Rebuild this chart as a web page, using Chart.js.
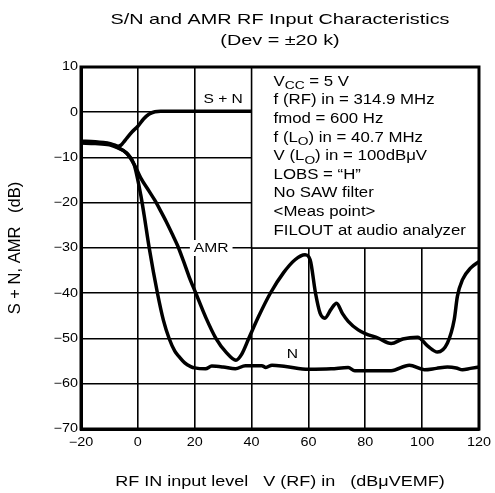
<!DOCTYPE html>
<html><head><meta charset="utf-8">
<script src="https://cdn.jsdelivr.net/npm/chart.js@4.4.1/dist/chart.umd.min.js"></script>
<style>html,body{margin:0;padding:0;background:#fff}canvas{display:block}</style>
</head><body>
<canvas id="c" width="495" height="493"></canvas>
<script>
// ---- data ----
const xTicks = [-20, 0, 20, 40, 60, 80, 100, 120];
const yTicks = [10, 0, -10, -20, -30, -40, -50, -60, -70];

const snX = [-20, -15, -10, -8, -7, -6, -5, -4, -2, 0, 2, 4, 6, 8, 10, 20, 30, 40];
const snY = [-6.4, -6.5, -6.9, -7.3, -7.5, -7.3, -6.6, -5.8, -4.3, -3.1, -1.5, -0.4, 0.1, 0.2, 0.2, 0.2, 0.2, 0.2];

const nX = [-20, -15, -10, -7, -4, -1.3, 1, 2.2, 4, 6.9, 9, 11, 13, 14.5, 16.5, 18.6, 20, 23.8, 26, 30, 34.3, 37.8, 43.6, 45, 47.2, 52, 60, 68, 74, 76.3, 89.1, 95.5, 100.8, 105, 108.9, 112, 114.2, 117, 120];
const nY = [-6.8, -6.9, -7.2, -7.9, -9.0, -11.6, -18.2, -22.7, -30, -40, -46, -50, -52.8, -54, -55.4, -56.2, -56.5, -56.7, -56.1, -56.3, -56.7, -56.0, -56.0, -56.4, -55.9, -56.2, -56.8, -56.7, -56.4, -57.1, -57.1, -55.9, -56.9, -56.6, -56.3, -56.5, -56.9, -56.6, -56.3];

const amrX = [-20, -15, -10, -7, -4, -1.3, 1, 4, 6, 8, 10, 12, 14, 16, 18, 20.4, 24, 27.4, 31, 34.5, 36.5, 39, 42.5, 46.6, 51.2, 55.3, 58.8, 60.6, 62.5, 64.1, 65.8, 68, 69.9, 72, 74, 77.5, 80, 84.5, 89.1, 93.2, 98.4, 102, 105.4, 108.9, 111.3, 112.4, 114.2, 117.1, 120];
const amrY = [-6.6, -6.7, -7.0, -7.8, -9.0, -11.5, -14.5, -17.5, -19.5, -21.8, -24.2, -26.8, -29.5, -32.8, -36.3, -40, -45.5, -49.9, -53, -54.8, -53.5, -50, -45.1, -40, -35.5, -32.6, -31.5, -32.6, -40, -44.4, -45.5, -43.5, -42.2, -44.5, -46.2, -48.1, -48.9, -49.9, -51.1, -50.1, -49.7, -51.7, -53, -51, -45.8, -40.7, -37, -34.4, -33];

const titleLines = ["S/N and AMR RF Input Characteristics", "(Dev = \u00B120 k)"];
const xTitle = "RF IN input level   V (RF) in   (dB\u03BCVEMF)";
const yTitle = "S + N, AMR   (dB)";
const notes = [
  "V_{CC} = 5 V",
  "f (RF) in = 314.9 MHz",
  "fmod = 600 Hz",
  "f (L_{O}) in = 40.7 MHz",
  "V (L_{O}) in = 100dB\u03BCV",
  "LOBS = \u201CH\u201D",
  "No SAW filter",
  "<Meas point>",
  "FILOUT at audio analyzer"
];
const curveLabels = [
  {text: "S + N", x: 30, y: 2.9, bg: false},
  {text: "AMR", x: 25.8, y: -30, bg: true},
  {text: "N", x: 54.4, y: -53.6, bg: false}
];
const noteBox = {x0: 40, x1: 120, y0: -30, y1: 10};

// ---- styling ----
const FONT = "'Liberation Sans', Arial, Helvetica, sans-serif";
const SX = 1.2;
const proto = CanvasRenderingContext2D.prototype.fillText;
const fmt = v => (v < 0 ? "\u2212" + Math.abs(v) : String(v));
const pts = (xs, ys) => xs.map((x, i) => ({x: x, y: ys[i]}));

const stretchPlugin = {
  id: 'stretch',
  beforeInit(chart) {
    const ctx = chart.ctx;
    ctx.fillText = function (t, x, y, mw) {
      const m = this.getTransform();
      if (Math.abs(m.b) > 1e-6) {
        return mw === undefined ? proto.call(this, t, x, y) : proto.call(this, t, x, y, mw);
      }
      this.save();
      this.translate(x, y);
      this.scale(SX, 1);
      proto.call(this, t, 0, 0);
      this.restore();
    };
  }
};

const decorPlugin = {
  id: 'decor',
  beforeDatasetsDraw(chart) {
    const ctx = chart.ctx, xs = chart.scales.x, ys = chart.scales.y;
    // note box
    const bx0 = xs.getPixelForValue(noteBox.x0), bx1 = xs.getPixelForValue(noteBox.x1);
    const by0 = ys.getPixelForValue(noteBox.y1), by1 = ys.getPixelForValue(noteBox.y0);
    ctx.save();
    ctx.fillStyle = '#fff';
    ctx.fillRect(bx0, by0, bx1 - bx0, by1 - by0);
    ctx.strokeStyle = '#000';
    ctx.lineWidth = 1.6;
    ctx.strokeRect(bx0, by0, bx1 - bx0, by1 - by0);
    // notes
    ctx.fillStyle = '#000';
    ctx.textBaseline = 'middle';
    ctx.textAlign = 'left';
    notes.forEach((line, i) => {
      let x = bx0 + 22;
      const y = by0 + 15 + 18.6 * i;
      const parts = line.split(/_\{([^}]*)\}/);
      parts.forEach((p, k) => {
        if (!p) return;
        const sub = k % 2 === 1;
        ctx.font = (sub ? 11.5 : 14) + 'px ' + FONT;
        ctx.fillText(p, x, y + (sub ? 4 : 0));
        x += ctx.measureText(p).width * SX;
      });
    });
    // curve labels
    ctx.textAlign = 'center';
    ctx.font = '13px ' + FONT;
    curveLabels.forEach(l => {
      const px = xs.getPixelForValue(l.x), py = ys.getPixelForValue(l.y);
      if (l.bg) {
        const w = ctx.measureText(l.text).width * SX + 8;
        ctx.fillStyle = '#fff';
        ctx.fillRect(px - w / 2, py - 8, w, 16);
      }
      ctx.fillStyle = '#000';
      ctx.fillText(l.text, px, py);
    });
    ctx.restore();
  },
  afterDatasetsDraw(chart) {
    const ctx = chart.ctx, a = chart.chartArea;
    ctx.save();
    ctx.strokeStyle = '#000';
    ctx.lineWidth = 3;
    ctx.strokeRect(a.left, a.top, a.right - a.left, a.bottom - a.top);
    ctx.restore();
  },
  afterDraw(chart) {
    const ctx = chart.ctx, a = chart.chartArea;
    const cx = (a.left + a.right) / 2;
    ctx.save();
    ctx.fillStyle = '#000';
    ctx.textAlign = 'center';
    ctx.textBaseline = 'middle';
    ctx.font = '15px ' + FONT;
    titleLines.forEach((t, i) => {
      ctx.save();
      ctx.translate(cx, 20 + 21 * i);
      ctx.scale(1.1, 1);
      ctx.fillText(t, 0, 0);
      ctx.restore();
    });
    ctx.restore();
  }
};

const lineDs = (data) => ({
  data: data, borderColor: '#000', borderWidth: 3.5, pointRadius: 0,
  cubicInterpolationMode: 'monotone', fill: false
});

new Chart(document.getElementById('c'), {
  type: 'line',
  data: {
    datasets: [lineDs(pts(snX, snY)), lineDs(pts(nX, nY)), lineDs(pts(amrX, amrY))]
  },
  plugins: [stretchPlugin, decorPlugin],
  options: {
    responsive: false,
    animation: false,
    devicePixelRatio: 1,
    layout: {padding: {top: 67, right: 13, left: 0, bottom: 0}},
    plugins: {legend: {display: false}, tooltip: {enabled: false}, title: {display: false}},
    scales: {
      x: {
        type: 'linear', min: -20, max: 120,
        afterFit(s) { s.height = 64; },
        afterBuildTicks(s) { s.ticks = xTicks.map(v => ({value: v})); },
        grid: {color: '#000', lineWidth: 1.6, drawTicks: false},
        border: {display: true, color: '#000', width: 3},
        ticks: {padding: 6, color: '#000', font: {family: FONT, size: 12}, callback: v => fmt(v), maxRotation: 0, autoSkip: false},
        title: {display: true, text: xTitle, color: '#000', font: {family: FONT, size: 15}, padding: {top: 0, bottom: 2}}
      },
      y: {
        type: 'linear', min: -70, max: 10,
        afterFit(s) { s.width = 81; },
        afterBuildTicks(s) { s.ticks = yTicks.map(v => ({value: v})); },
        grid: {color: '#000', lineWidth: 1.6, drawTicks: false},
        border: {display: true, color: '#000', width: 3},
        ticks: {padding: 3, color: '#000', font: {family: FONT, size: 12}, callback: v => fmt(v), autoSkip: false},
        title: {display: true, text: yTitle, color: '#000', font: {family: FONT, size: 16.5}, padding: {top: 6, bottom: 0}}
      }
    }
  }
});
</script>
</body></html>
